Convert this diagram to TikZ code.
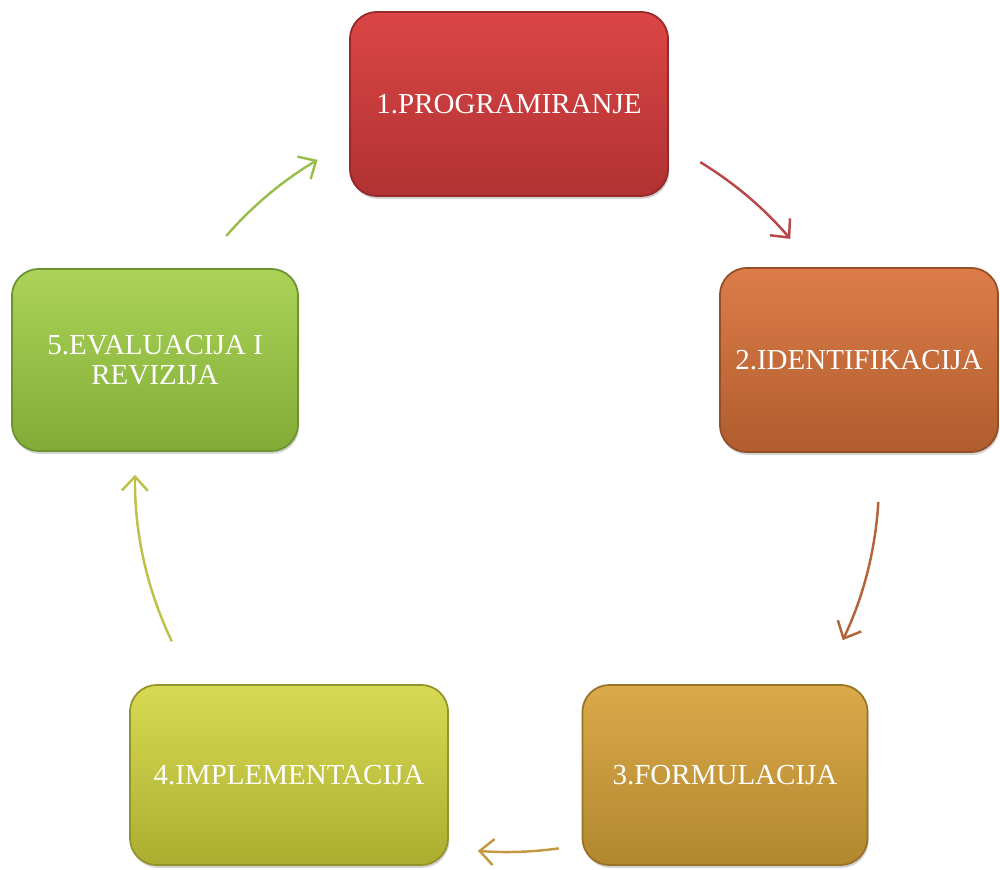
\documentclass[tikz,border=0pt]{standalone}
\usepackage{fontspec}
\setmainfont{Liberation Serif}
\usetikzlibrary{arrows.meta, shadows}

\definecolor{progtop}{HTML}{DC4545}
\definecolor{progbot}{HTML}{B03232}
\definecolor{identtop}{HTML}{DC7D49}
\definecolor{identbot}{HTML}{B05C2E}
\definecolor{formtop}{HTML}{DAAA4A}
\definecolor{formbot}{HTML}{B2872E}
\definecolor{impltop}{HTML}{D7DA54}
\definecolor{implbot}{HTML}{ACAD30}
\definecolor{evaltop}{HTML}{AAD357}
\definecolor{evalbot}{HTML}{82AC37}

\begin{document}
\begin{tikzpicture}[x=0.01cm, y=0.01cm,
    phase/.style 2 args={rounded corners=0.27cm, top color=#1, bottom color=#2,
      draw=#2!85!black, line width=0.5pt,
      drop shadow={shadow xshift=0.3pt, shadow yshift=-0.8pt, opacity=0.35},
      text=white, align=center, inner sep=2pt,
      font=\fontsize{8.25}{8.4}\selectfont},
    cyc/.style={line width=0.7pt, draw=#1,
      -{Straight Barb[length=1.4mm, width=2.6mm]}}]
  \useasboundingbox (0,0) rectangle (1000,870);

  % the five phases, clockwise from the top
  \node[phase={progtop}{progbot}, minimum width=3.18cm, minimum height=1.84cm]
    (prog) at (509,766) {1.PROGRAMIRANJE};
  \node[phase={identtop}{identbot}, minimum width=2.78cm, minimum height=1.84cm]
    (ident) at (859,510) {2.IDENTIFIKACIJA};
  \node[phase={formtop}{formbot}, minimum width=2.85cm, minimum height=1.80cm]
    (form) at (725,95) {3.FORMULACIJA};
  \node[phase={impltop}{implbot}, minimum width=3.18cm, minimum height=1.80cm]
    (impl) at (289,95) {4.IMPLEMENTACIJA};
  \node[phase={evaltop}{evalbot}, minimum width=2.86cm, minimum height=1.82cm]
    (eval) at (155,510) {5.EVALUACIJA I\\REVIZIJA};

  % arrows sit on one circle round the middle of the cycle
  \coordinate (mid) at (507,390);
  \coordinate (a1) at ([shift={(58.7:372)}]mid);
  \coordinate (a2) at ([shift={(-3.4:372)}]mid);
  \coordinate (a3) at ([shift={(-82:372)}]mid);
  \coordinate (a4) at ([shift={(205.7:372)}]mid);
  \coordinate (a5) at ([shift={(139:372)}]mid);

  \draw[cyc=progbot!90!white] (a1) arc[start angle=58.7, end angle=40.4, radius=372];
  \draw[cyc=identbot!95!white] (a2) arc[start angle=-3.4, end angle=-25.5, radius=372];
  \draw[cyc=formtop!90!black] (a3) arc[start angle=-82, end angle=-94.5, radius=372];
  \draw[cyc=impltop!88!black] (a4) arc[start angle=205.7, end angle=179.2, radius=372];
  \draw[cyc=evaltop!90!black] (a5) arc[start angle=139, end angle=120.6, radius=372];
\end{tikzpicture}
\end{document}
